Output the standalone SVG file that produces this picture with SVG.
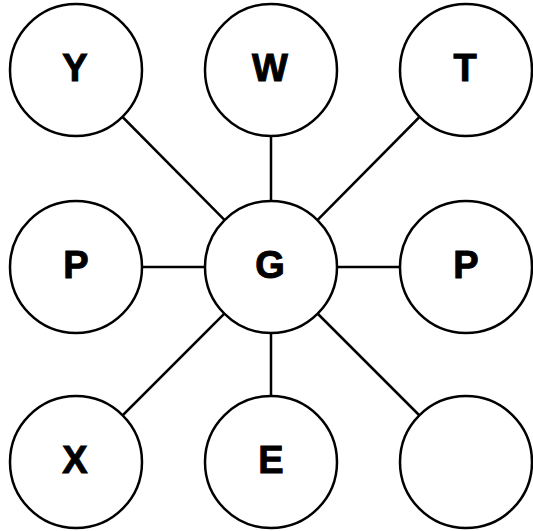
<svg xmlns="http://www.w3.org/2000/svg" width="533" height="531" viewBox="0 0 533 531">
<style>
.n circle{fill:#fff;stroke:#000;stroke-width:2.5}
.n text{font-family:"Liberation Sans",Arial,sans-serif;font-weight:bold;font-size:38px;text-anchor:middle;fill:#000;stroke:#000;stroke-width:1}
#edges line{stroke:#000;stroke-width:2.5}
</style>
<rect width="533" height="531" fill="#fff"/>
<g id="edges">
<line x1="271" y1="267" x2="76" y2="70"/>
<line x1="271" y1="267" x2="271" y2="70"/>
<line x1="271" y1="267" x2="466" y2="70"/>
<line x1="271" y1="267" x2="76" y2="267"/>
<line x1="271" y1="267" x2="466" y2="267"/>
<line x1="271" y1="267" x2="76" y2="462"/>
<line x1="271" y1="267" x2="271" y2="462"/>
<line x1="271" y1="267" x2="466" y2="462"/>
</g>
<g id="nY" class="n"><circle cx="76" cy="70" r="66"/><text x="75" y="81">Y</text></g>
<g id="nW" class="n"><circle cx="271" cy="70" r="66"/><text x="270" y="81">W</text></g>
<g id="nT" class="n"><circle cx="466" cy="70" r="66"/><text x="465" y="81">T</text></g>
<g id="nP1" class="n"><circle cx="76" cy="267" r="66"/><text x="76" y="278">P</text></g>
<g id="nG" class="n"><circle cx="271" cy="267" r="66"/><text x="270" y="278">G</text></g>
<g id="nP2" class="n"><circle cx="466" cy="267" r="66"/><text x="466" y="278">P</text></g>
<g id="nX" class="n"><circle cx="76" cy="462" r="66"/><text x="75" y="473">X</text></g>
<g id="nE" class="n"><circle cx="271" cy="462" r="66"/><text x="271" y="473">E</text></g>
<g id="nBlank" class="n"><circle cx="466" cy="462" r="66"/></g>
</svg>
